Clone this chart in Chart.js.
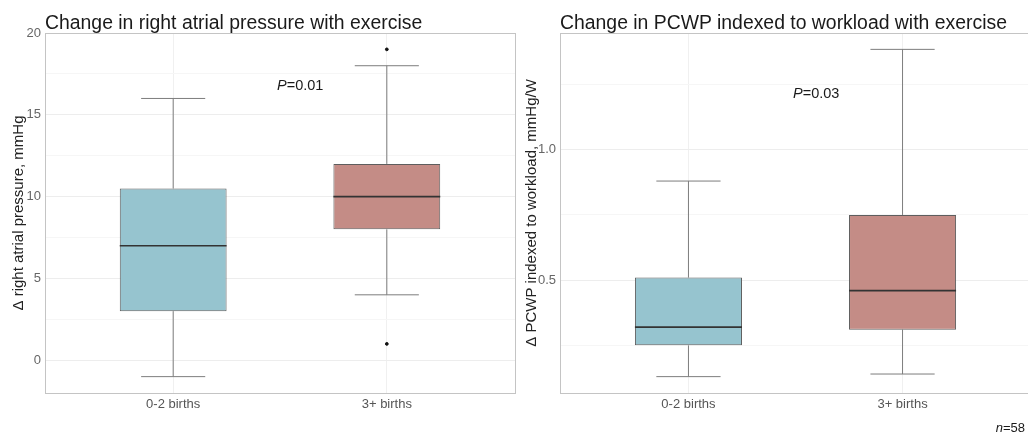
<!DOCTYPE html>
<html>
<head>
<meta charset="utf-8">
<script src="https://cdn.jsdelivr.net/npm/chart.js@4.4.1/dist/chart.umd.min.js"></script>
<style>
  html, body { margin: 0; padding: 0; background: #fff; overflow: hidden; }
  body { width: 1028px; height: 436px; position: relative; font-family: "Liberation Sans", Arial, sans-serif; }
  canvas { position: absolute; top: 0; }
  #c1 { left: 0; }
  #c2 { left: 515px; }
  .title { position: absolute; top: 11px; font-size: 19.4px; color: #1a1a1a; white-space: nowrap; }
  .note { position: absolute; font-size: 14.5px; color: #1a1a1a; white-space: nowrap; }
</style>
</head>
<body>
<canvas id="c1" width="520" height="436"></canvas>
<canvas id="c2" width="540" height="436"></canvas>
<div class="title" style="left:45px">Change in right atrial pressure with exercise</div>
<div class="title" style="left:560px">Change in PCWP indexed to workload with exercise</div>
<div class="note" style="left:277px; top:77px"><i>P</i>=0.01</div>
<div class="note" style="left:793px; top:85px"><i>P</i>=0.03</div>
<div class="note" style="right:3px; top:420px; font-size:13px"><i>n</i>=58</div>

<script>
// Groups
const groups = ["0-2 births", "3+ births"];
const fills = ["#96c4cf", "#c48c86"];

// Change in right atrial pressure, mmHg (box stats)
const rapLow = [-1, 4];
const rapQ1 = [3, 8];
const rapMedian = [7, 10];
const rapQ3 = [10.5, 12];
const rapHigh = [16, 18];
const rapOutliers = [[], [19, 1]];
const rapTicks = [0, 5, 10, 15, 20];
const rapMinor = [2.5, 7.5, 12.5, 17.5];

// Change in PCWP indexed to workload, mmHg/W (box stats)
const pcwpLow = [0.13, 0.14];
const pcwpQ1 = [0.25, 0.31];
const pcwpMedian = [0.32, 0.46];
const pcwpQ3 = [0.51, 0.75];
const pcwpHigh = [0.88, 1.385];
const pcwpOutliers = [[], []];
const pcwpTicks = [0.5, 1.0];
const pcwpMinor = [0.25, 0.75, 1.25];

Chart.defaults.font.family = '"Liberation Sans", Arial, sans-serif';

// draws the grey panel border
const panelBorder = {
  id: 'panelBorder',
  afterDraw(chart) {
    const a = chart.chartArea, ctx = chart.ctx;
    ctx.save();
    ctx.strokeStyle = '#c4c4c4';
    ctx.lineWidth = 1;
    ctx.strokeRect(Math.round(a.left) + 0.5, Math.round(a.top) + 0.5,
      Math.round(a.right - a.left), Math.round(a.bottom - a.top));
    ctx.restore();
  }
};

function makeBoxChart(id, s) {
  const gap = i => ({ x: i + 1, y: null });
  const whiskers = [], medians = [], outliers = [];
  groups.forEach((g, i) => {
    const x = i + 1;
    whiskers.push({ x: x, y: s.q3[i] }, { x: x, y: s.high[i] }, gap(i),
      { x: x - 0.15, y: s.high[i] }, { x: x + 0.15, y: s.high[i] }, gap(i),
      { x: x, y: s.low[i] }, { x: x, y: s.q1[i] }, gap(i),
      { x: x - 0.15, y: s.low[i] }, { x: x + 0.15, y: s.low[i] }, gap(i));
    medians.push({ x: x - 0.25, y: s.median[i] }, { x: x + 0.25, y: s.median[i] }, gap(i));
    s.outliers[i].forEach(v => outliers.push({ x: x, y: v }));
  });

  // ggplot-like 5% expansion of the y range
  const all = s.low.concat(s.high, ...s.outliers);
  const lo = Math.min(...all), hi = Math.max(...all);
  const pad = (hi - lo) * 0.05;

  new Chart(document.getElementById(id), {
    type: 'bar',
    data: {
      datasets: [
        {
          type: 'bar',
          data: groups.map((g, i) => ({ x: i + 1, y: [s.q1[i], s.q3[i]] })),
          backgroundColor: fills,
          borderColor: '#5e5e5e',
          borderWidth: 1,
          borderSkipped: false,
          barPercentage: 0.5,
          categoryPercentage: 1,
          order: 2
        },
        {
          type: 'line',
          data: whiskers,
          borderColor: '#7d7d7d',
          borderWidth: 1,
          pointRadius: 0,
          spanGaps: false,
          order: 3
        },
        {
          type: 'line',
          data: medians,
          borderColor: '#333',
          borderWidth: 1.6,
          pointRadius: 0,
          spanGaps: false,
          order: 1
        },
        {
          type: 'scatter',
          data: outliers,
          backgroundColor: '#111',
          borderColor: '#111',
          pointRadius: 1.4,
          order: 0
        }
      ]
    },
    options: {
      responsive: false,
      animation: false,
      layout: { padding: { top: 33, right: s.padRight, left: 0, bottom: 0 } },
      plugins: { legend: { display: false }, tooltip: { enabled: false } },
      scales: {
        x: {
          type: 'linear',
          min: 0.4,
          max: 2.6,
          offset: false,
          afterBuildTicks: sc => { sc.ticks = groups.map((g, i) => ({ value: i + 1 })); },
          afterFit: sc => { sc.height = 43; },
          ticks: {
            callback: v => groups[v - 1] || '',
            color: '#555',
            font: { size: 13 },
            padding: 4,
            maxRotation: 0
          },
          grid: { color: '#f0f0f0', offset: false, drawTicks: false },
          border: { display: false }
        },
        y: {
          min: lo - pad,
          max: hi + pad,
          afterBuildTicks: sc => {
            sc.ticks = s.ticks.concat(s.minor).sort((a, b) => a - b).map(v => ({ value: v }));
          },
          afterFit: sc => { sc.width = 45; },
          ticks: {
            callback: v => s.ticks.includes(v) ? s.fmt(v) : '',
            color: '#666',
            font: { size: 13 },
            padding: 4
          },
          grid: {
            color: ctx => s.ticks.includes(ctx.tick.value) ? '#ededed' : '#f6f6f6',
            drawTicks: false
          },
          border: { display: false },
          title: {
            display: true,
            text: s.title,
            color: '#222',
            font: { size: 15 },
            padding: { top: s.titlePad, bottom: 0 }
          }
        }
      }
    },
    plugins: [panelBorder]
  });
}

makeBoxChart('c1', {
  low: rapLow, q1: rapQ1, median: rapMedian, q3: rapQ3, high: rapHigh, outliers: rapOutliers,
  ticks: rapTicks, minor: rapMinor, fmt: v => String(v),
  title: 'Δ right atrial pressure, mmHg', titlePad: 10, padRight: 4
});

makeBoxChart('c2', {
  low: pcwpLow, q1: pcwpQ1, median: pcwpMedian, q3: pcwpQ3, high: pcwpHigh, outliers: pcwpOutliers,
  ticks: pcwpTicks, minor: pcwpMinor, fmt: v => v.toFixed(1),
  title: 'Δ PCWP indexed to workload, mmHg/W', titlePad: 8, padRight: 24
});
</script>
</body>
</html>
